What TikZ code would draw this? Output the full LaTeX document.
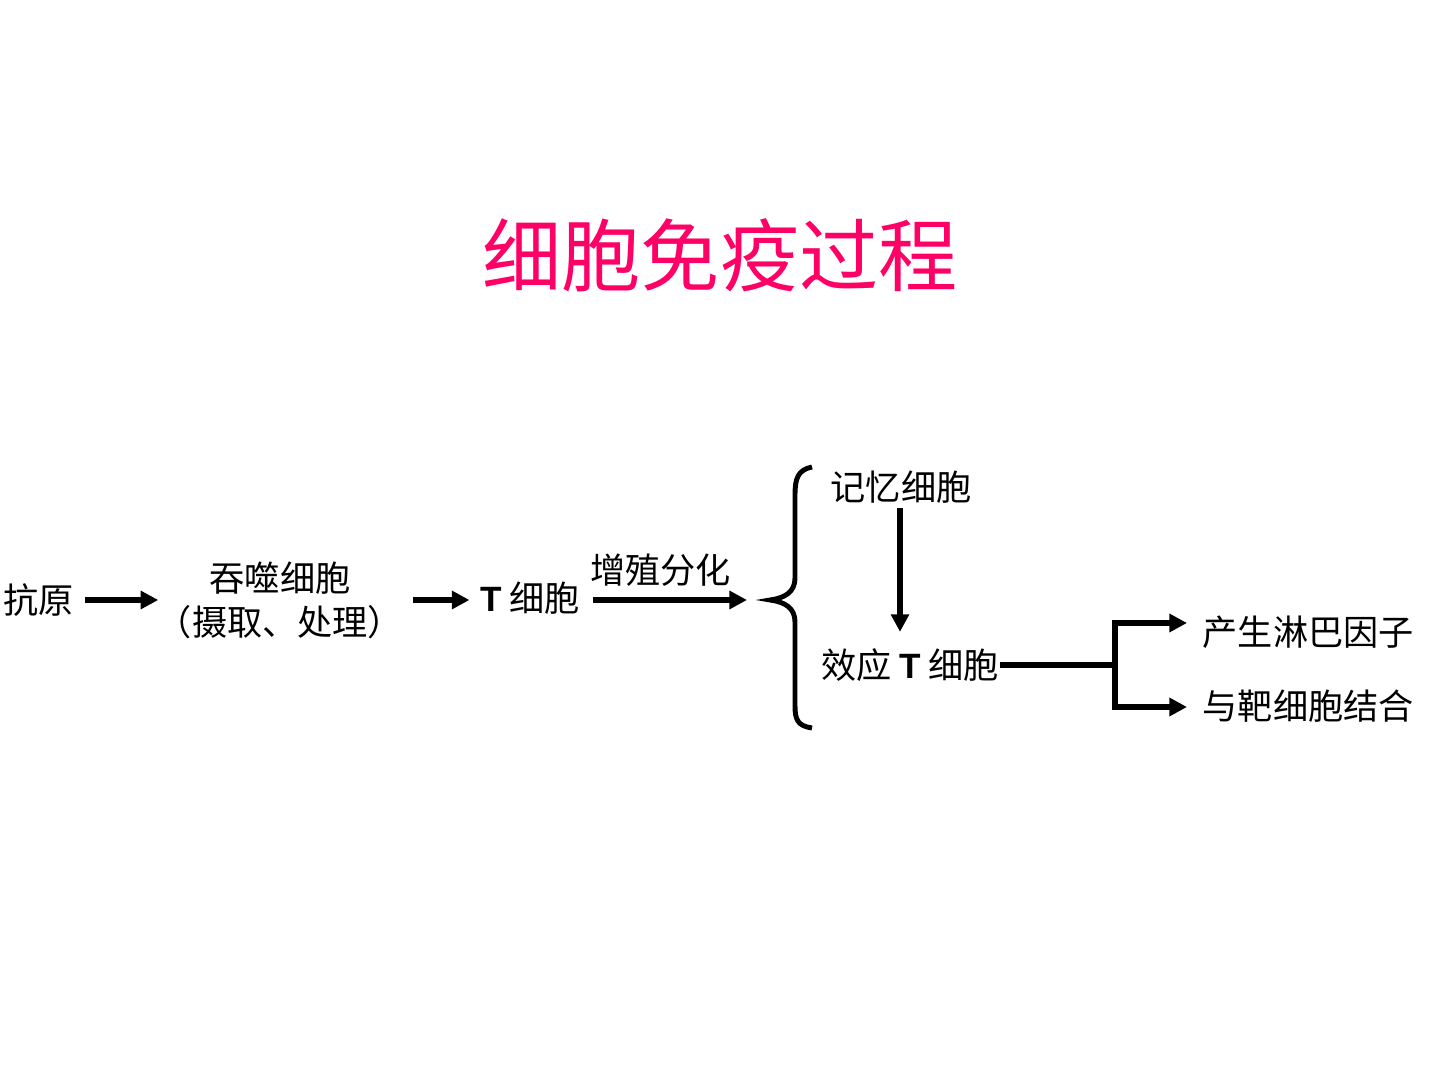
\documentclass[tikz,border=0pt]{standalone}
\usepackage{fontspec}
\setmainfont{Noto Sans CJK SC}
\newfontfamily\latinbold{Liberation Sans}
\usepackage{xcolor}
\usetikzlibrary{positioning,calc,arrows.meta}
\definecolor{TPink}{HTML}{FF0066}
\definecolor{TInk}{HTML}{000000}

\begin{document}
\begin{tikzpicture}[x=0.01cm, y=-0.01cm,
  every node/.style={text=TInk, inner sep=0pt, font=\fontsize{10pt}{12.5pt}\selectfont},
  heading/.style={text=TPink, font=\fontsize{22.5pt}{26pt}\selectfont},
  cell/.style={align=center},
  arrow/.style={-{Triangle[length=5pt,width=5pt]}, draw=TInk, line width=1.5pt},
  plain/.style={draw=TInk, line width=1.6pt}]
\useasboundingbox[fill=white] (0,0) rectangle (1440,1080);
\node[heading] (title)  at (720,255)  {细胞免疫过程};
\node[cell]    (antigen) at (39,600)  {抗原};
\node[cell]    (phago)   at (280,600) {吞噬细胞\\（摄取、处理）};
\node[cell]    (tcell)   at (530,598) {{\latinbold\bfseries T} 细胞};
\node[cell]    (memo)    at (901,487) {记忆细胞};
\node[cell]    (effect)  at (910,665) {效应 {\latinbold\bfseries T} 细胞};
\node[cell, anchor=west] (lymph)  at (1202,632) {产生淋巴因子};
\node[cell, anchor=west] (target) at (1202,706) {与靶细胞结合};
\coordinate (tip)  at (747,600);
\coordinate (fork) at (1115,665);
% arrows along the chain
\draw[arrow, shorten <=0.1cm, shorten >=-0.02cm] (antigen.east |- 0,600) -- (phago.west |- 0,600);
\draw[arrow, shorten <=0.09cm, shorten >=0.1cm] (phago.east |- 0,600) -- (tcell.west |- 0,600);
\draw[arrow, shorten <=0.12cm] (tcell.east |- 0,600) -- node[above=3pt, xshift=-0.03cm]{增殖分化} (tip);
\draw[line width=1.4pt, draw=TInk] (812,467) .. controls (798,470) and (795,478) .. (795,495) -- (795,578)
  .. controls (795,592) and (785,598) .. (770,600) .. controls (785,602) and (795,608) .. (795,622)
  -- (795,706) .. controls (795,720) and (798,726) .. (812,728);
\draw[arrow, shorten <=0.04cm, shorten >=0.16cm] (memo.south -| 900,0) -- (effect.north -| 900,0);
% effector branches
\draw[plain] (effect.east) -- (fork);
\draw[arrow, line width=1.6pt] (fork) |- ([xshift=-0.15cm]lymph.west |- 0,623);
\draw[arrow, line width=1.6pt] (fork) |- ([xshift=-0.15cm]target.west |- 0,707);
\end{tikzpicture}
\end{document}
